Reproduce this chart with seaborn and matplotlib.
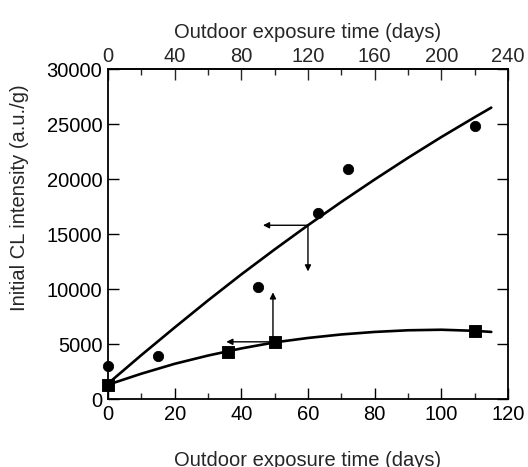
import matplotlib
matplotlib.use("Agg")
import matplotlib.pyplot as plt
import seaborn as sns
import pandas as pd
from matplotlib.ticker import MultipleLocator

# Measured points (bottom axis: days)
circle_days = [0, 15, 45, 63, 72, 110]
circle_cl = [3000, 3950, 10150, 16900, 20900, 24800]

square_days = [0, 36, 50, 110]
square_cl = [1300, 4300, 5150, 6150]

# Fitted trend curves, read along their length
circle_fit_days = [0, 10, 20, 30, 40, 50, 60, 70, 80, 90, 100, 110, 115]
circle_fit_cl = [1400, 3990, 6500, 8960, 11330, 13600, 15800, 17920, 19960,
                 21930, 23820, 25620, 26500]

square_fit_days = [0, 10, 20, 30, 40, 50, 60, 70, 80, 90, 100, 110, 115]
square_fit_cl = [1300, 2300, 3200, 3950, 4600, 5150, 5550, 5870, 6100,
                 6250, 6300, 6200, 6100]

# Arrow anchors: (day, intensity, dx, dy) telling which axis each curve uses
arrow_specs = [
    (60, 15800, -13.5, 0),
    (60, 15800, 0, -4200),
    (49.5, 5200, -14, 0),
    (49.5, 5200, 0, 4500),
]

sns.set_theme(style="ticks")
plt.rcParams["font.family"] = ["Liberation Sans", "DejaVu Sans"]

fig = plt.figure(figsize=(5.28, 4.67), dpi=100)
ax = fig.add_axes([0.2045, 0.1456, 0.7575, 0.7064])

pts_c = pd.DataFrame({"days": circle_days, "cl": circle_cl})
pts_s = pd.DataFrame({"days": square_days, "cl": square_cl})
fit_c = pd.DataFrame({"days": circle_fit_days, "cl": circle_fit_cl})
fit_s = pd.DataFrame({"days": square_fit_days, "cl": square_fit_cl})

sns.lineplot(data=fit_c, x="days", y="cl", ax=ax, color="black", lw=1.9, zorder=3)
sns.lineplot(data=fit_s, x="days", y="cl", ax=ax, color="black", lw=1.9, zorder=3)
sns.scatterplot(data=pts_c, x="days", y="cl", ax=ax, marker="o", s=55,
                color="black", edgecolor="black", zorder=4, clip_on=False)
sns.scatterplot(data=pts_s, x="days", y="cl", ax=ax, marker="s", s=65,
                color="black", edgecolor="black", zorder=4, clip_on=False)

for x0, y0, dx, dy in arrow_specs:
    ax.annotate("", xy=(x0 + dx, y0 + dy), xytext=(x0, y0),
                arrowprops=dict(arrowstyle="-|>", color="black", lw=1.0,
                                mutation_scale=9, shrinkA=0, shrinkB=0))

ax.set_xlim(0, 120)
ax.set_ylim(0, 30000)
ax.xaxis.set_major_locator(MultipleLocator(20))
ax.xaxis.set_minor_locator(MultipleLocator(10))
ax.yaxis.set_major_locator(MultipleLocator(5000))

fs = 14.5
ax.tick_params(axis="both", which="major", direction="in", length=8, width=1.0,
               labelsize=fs, colors="black", pad=4)
ax.tick_params(axis="x", which="minor", direction="in", length=4, width=1.0)
ax.tick_params(axis="y", which="both", right=True, left=True)

for sp in ax.spines.values():
    sp.set_linewidth(1.3)
    sp.set_color("black")
    sp.set_visible(True)

ax.set_xlabel("Outdoor exposure time (days)", fontsize=fs, labelpad=20)
ax.set_ylabel("Initial CL intensity (a.u./g)", fontsize=fs)
ax.yaxis.set_label_coords(-0.1975, 0.61)

top = ax.secondary_xaxis("top", functions=(lambda d: d * 2, lambda d: d / 2))
top.xaxis.set_major_locator(MultipleLocator(40))
top.xaxis.set_minor_locator(MultipleLocator(20))
top.tick_params(axis="x", which="major", direction="in", length=8, width=1.0,
                labelsize=fs, pad=2)
top.tick_params(axis="x", which="minor", direction="in", length=4, width=1.0)
top.set_xlabel("Outdoor exposure time (days)", fontsize=fs, labelpad=7)

ax.set_facecolor("white")
fig.patch.set_facecolor("white")
fig.savefig("out.png", dpi=100)
